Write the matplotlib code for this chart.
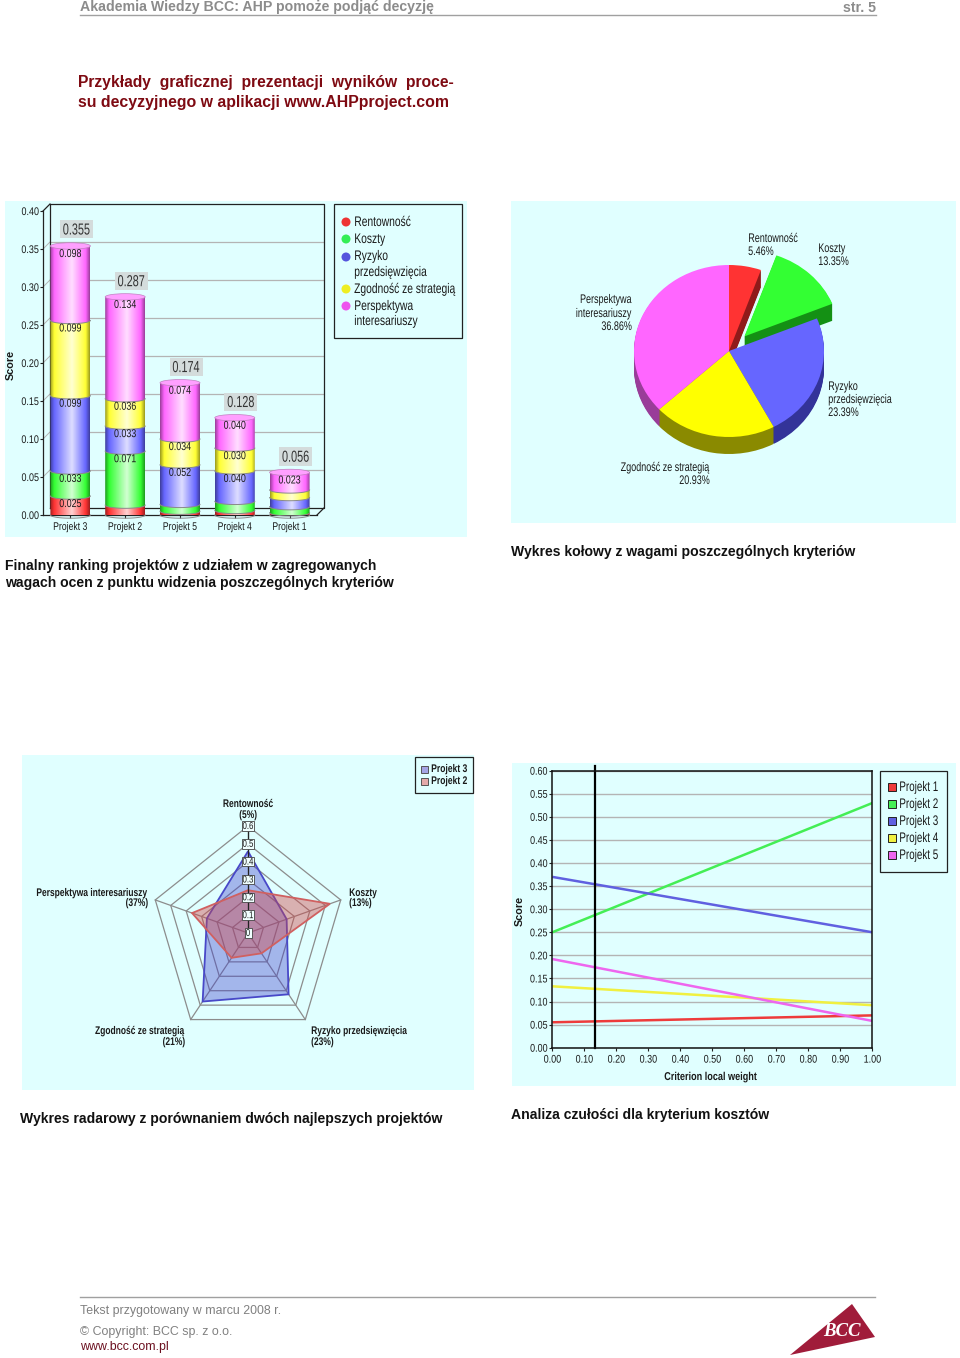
import numpy as np
import matplotlib
matplotlib.use("Agg")
import matplotlib.pyplot as plt
import matplotlib.patheffects as pe
from matplotlib.patches import Rectangle, Ellipse, Polygon, PathPatch
from matplotlib.path import Path
from matplotlib.transforms import Affine2D

W, H = 960, 1358
SANS = 'Liberation Sans'
plt.rcParams['font.family'] = [SANS, 'DejaVu Sans']

# ---------- data ----------
bar_projects = ['Projekt 3', 'Projekt 2', 'Projekt 5', 'Projekt 4', 'Projekt 1']
bar_totals = [0.355, 0.287, 0.174, 0.128, 0.056]
rentownosc = [0.025, 0.013, 0.005, 0.006, 0.003]
koszty = [0.033, 0.071, 0.009, 0.012, 0.008]
ryzyko = [0.099, 0.033, 0.052, 0.040, 0.012]
zgodnosc = [0.099, 0.036, 0.034, 0.030, 0.010]
perspektywa = [0.098, 0.134, 0.074, 0.040, 0.023]
y_ticks_bar = [0.00, 0.05, 0.10, 0.15, 0.20, 0.25, 0.30, 0.35, 0.40]

pie_values = [5.46, 13.35, 23.39, 20.93, 36.86]
pie_explode = [0, 0.235, 0, 0, 0]

radar_project3 = [0.458, 0.250, 0.425, 0.475, 0.266]
radar_project2 = [0.240, 0.530, 0.141, 0.172, 0.362]
radar_levels = [0.1, 0.2, 0.3, 0.4, 0.5, 0.6]

sens_x = [0.0, 1.0]
sens_p1 = [0.055, 0.070]
sens_p2 = [0.250, 0.530]
sens_p3 = [0.370, 0.250]
sens_p4 = [0.133, 0.092]
sens_p5 = [0.192, 0.058]
sens_marker = 0.1335

# ---------- colours ----------
CYAN = '#E0FFFF'
seg_colors = ['#FF3333', '#33FF33', '#6666FF', '#FFFF33', '#FF66FF']
pie_top = ['#FF3333', '#33FF33', '#6666FF', '#FFFF00', '#FF66FF']
pie_side = ['#8F1A1A', '#149014', '#333399', '#8A8A00', '#993D99']
DARKTXT = '#1a1a1a'
FRAC = {'left': 0.0, 'center': 0.5, 'right': 1.0}


class Squeeze(pe.AbstractPathEffect):
    """Narrows a text horizontally about its alignment point (the charts use a condensed face)."""

    def __init__(self, sx, ha='left'):
        super().__init__()
        self.sx, self.frac = sx, FRAC[ha]

    def draw_path(self, renderer, gc, tpath, affine, rgbFace=None):
        ext = tpath.get_extents()
        a = ext.x0 + self.frac * ext.width
        t = Affine2D().translate(-a, 0).scale(self.sx, 1).translate(a, 0)
        renderer.draw_path(gc, tpath, t + affine, rgbFace)


fig = plt.figure(figsize=(W / 100, H / 100), dpi=100, facecolor='white')


def px_axes(x0, y0, x1, y1, **kw):
    a = fig.add_axes([x0 / W, 1 - y1 / H, (x1 - x0) / W, (y1 - y0) / H], **kw)
    a.patch.set_alpha(0)
    return a


page = fig.add_axes([0, 0, 1, 1])
page.set_xlim(0, W)
page.set_ylim(H, 0)
page.axis('off')


def T(x, y, s, size=8.5, ha='left', va='center', weight='normal', color=DARKTXT, sx=None, **kw):
    t = page.text(x, y, s, fontsize=size, ha=ha, va=va, fontweight=weight, color=color, **kw)
    if sx:
        t.set_path_effects([Squeeze(sx, ha)])
    return t


def legend_box(x0, y0, x1, y1):
    page.add_patch(Rectangle((x0 + 1, y0 + 1), x1 - x0, y1 - y0, fc='#777777', ec='none', zorder=3))
    page.add_patch(Rectangle((x0, y0), x1 - x0, y1 - y0, fc=CYAN, ec='#222222', lw=0.9, zorder=4))


# ---------- page text ----------
T(80, 7.5, 'Akademia Wiedzy BCC: AHP pomoże podjąć decyzję', 10.2, weight='bold', color='#8c8c8c')
T(876, 7.5, 'str. 5', 10.2, ha='right', weight='bold', color='#8c8c8c')
page.plot([80, 876], [14.5, 14.5], color='#a0a0a0', lw=1)
T(78, 82, 'Przykłady  graficznej  prezentacji  wyników  proce-', 11.25, weight='bold', color='#7E0A12')
T(78, 103, 'su decyzyjnego w aplikacji www.AHPproject.com', 11.45, weight='bold', color='#7E0A12')

for x, y, s in [(5, 566, 'Finalny ranking projektów z udziałem w zagregowanych'),
                (5, 583, 'wagach ocen z punktu widzenia poszczególnych kryteriów'),
                (511, 552, 'Wykres kołowy z wagami poszczególnych kryteriów'),
                (20, 1119, 'Wykres radarowy z porównaniem dwóch najlepszych projektów'),
                (511, 1115, 'Analiza czułości dla kryterium kosztów')]:
    T(x, y, s, 10.1, weight='bold', color='#111111')

page.plot([80, 875], [1296.5, 1296.5], color='#a0a0a0', lw=1)
T(80, 1311, 'Tekst przygotowany w marcu 2008 r.', 8.95, color='#808080')
T(80, 1332, '© Copyright: BCC sp. z o.o.', 8.95, color='#808080')
T(80, 1347, 'www.bcc.com.pl', 8.95, color='#6b1020')
page.add_patch(Polygon([(852, 1304), (875, 1337), (790, 1355)], closed=True, fc='#A01C3A', ec='none'))
page.text(842, 1332, 'BCC', fontsize=13.5, ha='center', va='center', family='Liberation Serif',
          fontweight='bold', style='italic', color='white')

# panels
for (x0, y0, x1, y1) in [(5, 201, 467, 537), (511, 201, 956, 523), (22, 755, 474, 1090), (512, 763, 956, 1086)]:
    page.add_patch(Rectangle((x0, y0), x1 - x0, y1 - y0, fc=CYAN, ec='none', zorder=0))

# ---------- stacked cylinders ----------
ax = px_axes(43, 204, 324, 515)
dx_cat = 54.8
py = 303 / 0.4
depth_x, depth_y = 7 / dx_cat, 7 / py
ax.set_xlim(-0.5, 4.5 + depth_x)
ax.set_ylim(0, 0.4 + depth_y)
for s in ['top', 'right']:
    ax.spines[s].set_visible(False)
ax.spines['left'].set_bounds(0, 0.4)
ax.spines['bottom'].set_bounds(-0.5, 4.5)
for s in ['left', 'bottom']:
    ax.spines[s].set_color('#222222')
    ax.spines[s].set_linewidth(0.9)
ax.set_xticks(range(5), bar_projects)
ax.set_yticks(y_ticks_bar, [f'{v:.2f}' for v in y_ticks_bar])
ax.tick_params(length=2.5, width=0.8, color='#222222', labelsize=8, labelcolor=DARKTXT, pad=0.5)
ax.tick_params(axis='x', pad=2.5)
for lab in ax.get_xticklabels():
    lab.set_path_effects([Squeeze(0.78, 'center')])
for lab in ax.get_yticklabels():
    lab.set_path_effects([Squeeze(0.81, 'right')])
# back wall
ax.hlines([v + depth_y for v in y_ticks_bar[1:-1]], -0.5 + depth_x, 4.5 + depth_x, color='#b4b4b4', lw=0.9, zorder=1)
for v in y_ticks_bar[1:-1]:
    ax.plot([-0.5, -0.5 + depth_x], [v, v + depth_y], color='#b4b4b4', lw=0.7, zorder=1, clip_on=False)
ax.plot([-0.5 + depth_x, 4.5 + depth_x, 4.5 + depth_x, -0.5 + depth_x, -0.5 + depth_x],
        [depth_y, depth_y, 0.4 + depth_y, 0.4 + depth_y, depth_y], color='#222222', lw=0.9, zorder=1, clip_on=False)
ax.plot([-0.5, -0.5 + depth_x], [0.4, 0.4 + depth_y], color='#222222', lw=0.9, zorder=1, clip_on=False)
ax.plot([4.5, 4.5 + depth_x], [0, depth_y], color='#222222', lw=0.9, zorder=1, clip_on=False)

bar_w = 40 / dx_cat
ell_h = 3.2 / py
stack = [rentownosc, koszty, ryzyko, zgodnosc, perspektywa]
txt_shift = 8 / py


def gradient(col):
    rgb = np.array(matplotlib.colors.to_rgb(col))
    stops = np.array([0.0, 0.10, 0.55, 0.90, 1.0])
    cols = np.array([rgb * 0.62, rgb, rgb * 0.22 + 0.78, rgb, rgb * 0.62])
    t = np.linspace(0, 1, 64)
    return np.dstack([np.interp(t, stops, cols[:, i]) for i in range(3)])


z = 3
for i in range(5):
    base = 0.0
    for j, series in enumerate(stack):
        v = series[i]
        top = base + v
        xl, xr = i - bar_w / 2, i + bar_w / 2
        th = np.linspace(np.pi, 2 * np.pi, 40)
        arc_x = i + bar_w / 2 * np.cos(th)
        arc_y = base + ell_h * np.sin(th)
        verts = [(xl, top), (xr, top)] + list(zip(arc_x[::-1], arc_y[::-1])) + [(xl, top)]
        im = ax.imshow(gradient(seg_colors[j]), extent=(xl, xr, base - ell_h, top), aspect='auto',
                       zorder=z, interpolation='bilinear')
        im.set_clip_path(PathPatch(Path(verts), transform=ax.transData))
        ax.plot(arc_x, arc_y, color='#8a8a8a', lw=0.7, zorder=z + 0.1, clip_on=False)
        z += 0.2
        if j == 4:
            ax.add_patch(Ellipse((i, top), bar_w, 2 * ell_h, fc='#FFA0FF', ec='#c080c0', lw=0.5, zorder=z))
        if v >= 0.02:
            t = ax.text(i, top - txt_shift, f'{v:.3f}', ha='center', va='center', fontsize=8.2,
                        color=DARKTXT, zorder=30)
            t.set_path_effects([Squeeze(0.78, 'center')])
        base = top
    cx, cy = i + 0.11, bar_totals[i] + 0.021
    ax.add_patch(Rectangle((cx - 16.5 / dx_cat, cy - 9 / py), 33 / dx_cat, 18 / py, fc='#D4DCDC', ec='none', zorder=29))
    t = ax.text(cx, cy - 0.001, f'{bar_totals[i]:.3f}', ha='center', va='center', fontsize=11.5,
                color='#333333', zorder=30)
    t.set_path_effects([Squeeze(0.68, 'center')])
ax.set_xlim(-0.5, 4.5 + depth_x)
ax.set_ylim(0, 0.4 + depth_y)
T(11, 365, 'Score', 7.8, ha='center', weight='bold', rotation=90)

legend_box(334, 204, 462, 338)
for yy, col in zip([222, 239, 257, 289, 306], ['#EE3333', '#33EE55', '#5555DD', '#EEEE22', '#EE55EE']):
    page.add_patch(Ellipse((346, yy), 9, 9, fc=col, ec='none', zorder=5))
for yy, s in zip([222, 239, 256, 272, 289, 306, 321],
                 ['Rentowność', 'Koszty', 'Ryzyko', 'przedsięwzięcia', 'Zgodność ze strategią', 'Perspektywa', 'interesariuszy']):
    T(354, yy, s, 10, sx=0.74, zorder=6)

# ---------- pie ----------
pc_x, pc_y, rx, ry = 729, 351, 95, 86
px_lim = 1.5
axp = px_axes(pc_x - px_lim * rx, pc_y - px_lim * ry, pc_x + px_lim * rx, pc_y + px_lim * ry)
depth = 17 / ry
for d in np.linspace(depth, 0, 18):
    cols = pie_top if d == 0 else pie_side
    axp.pie(pie_values, explode=pie_explode, colors=cols, startangle=90, counterclock=False,
            center=(0, -d), radius=1, wedgeprops=dict(linewidth=0))
axp.set_aspect('auto')
axp.set_xlim(-px_lim, px_lim)
axp.set_ylim(-px_lim, px_lim)
axp.axis('off')
for x, y, s, ha in [(748, 239, 'Rentowność', 'left'), (748, 252, '5.46%', 'left'),
                    (818, 249, 'Koszty', 'left'), (818, 262, '13.35%', 'left'),
                    (632, 300, 'Perspektywa', 'right'), (632, 314, 'interesariuszy', 'right'), (632, 327, '36.86%', 'right'),
                    (828, 387, 'Ryzyko', 'left'), (828, 400, 'przedsięwzięcia', 'left'), (828, 413, '23.39%', 'left'),
                    (710, 468, 'Zgodność ze strategią', 'right'), (710, 481, '20.93%', 'right')]:
    T(x, y, s, 9, ha=ha, sx=0.72)

# ---------- radar ----------
rc_x, rc_y, sx_r, sy_r = 248, 933, 97.5 / 0.6, 107 / 0.6
lim = 0.7
axr = px_axes(rc_x - lim * sx_r, rc_y - lim * sy_r, rc_x + lim * sx_r, rc_y + lim * sy_r)
axr.set_xlim(-lim, lim)
axr.set_ylim(-lim, lim)
axr.axis('off')
ang = np.arange(5) * 2 * np.pi / 5


def polar_xy(vals):
    v = np.asarray(vals, float)
    return np.r_[v * np.sin(ang), v[0] * np.sin(ang[0])], np.r_[v * np.cos(ang), v[0] * np.cos(ang[0])]


for lv in radar_levels:
    axr.plot(*polar_xy([lv] * 5), color='#8c8c8c', lw=0.9, zorder=2)
for a in ang:
    axr.plot([0, 0.6 * np.sin(a)], [0, 0.6 * np.cos(a)], color='#8c8c8c', lw=0.9, zorder=2)
axr.fill(*polar_xy(radar_project3), fc=(0.25, 0.25, 0.8, 0.38), ec='#4848C8', lw=1.3, zorder=3)
axr.fill(*polar_xy(radar_project2), fc=(0.82, 0.28, 0.28, 0.42), ec='#D06060', lw=1.3, zorder=4)
axr.plot([0, 0], [0, 0.6], color='#222222', lw=0.9, zorder=5)
for v in [0] + radar_levels:
    bw = (12 if v else 7) / sx_r
    axr.add_patch(Rectangle((-bw / 2, v - 4.7 / sy_r), bw, 9.4 / sy_r, fc='#F0FFFF', ec='#444444', lw=0.6, zorder=6))
    t = axr.text(0, v, f'{v:g}', ha='center', va='center', fontsize=7.2, color=DARKTXT, zorder=7)
    t.set_path_effects([Squeeze(0.78, 'center')])
for x, y, s, ha in [(248, 804, 'Rentowność', 'center'), (248, 815, '(5%)', 'center'),
                    (349, 893, 'Koszty', 'left'), (349, 903, '(13%)', 'left'),
                    (311, 1031, 'Ryzyko przedsięwzięcia', 'left'), (311, 1042, '(23%)', 'left'),
                    (185, 1031, 'Zgodność ze strategią', 'right'), (185, 1042, '(21%)', 'right'),
                    (148, 893, 'Perspektywa interesariuszy', 'right'), (148, 903, '(37%)', 'right')]:
    T(x, y, s, 8, ha=ha, weight='bold', sx=0.76)
legend_box(415, 757, 473, 793)
for yy, s, col in [(769, 'Projekt 3', '#A4A4E4'), (781, 'Projekt 2', '#E4AAAA')]:
    page.add_patch(Rectangle((421, yy - 3.5), 7, 7, fc=col, ec='#555555', lw=0.7, zorder=5))
    T(431, yy, s, 8, weight='bold', sx=0.77, zorder=6)

# ---------- sensitivity ----------
axs = px_axes(552.3, 770.7, 872.3, 1047.7)
axs.set_xlim(0, 1)
axs.set_ylim(0, 0.6)
y_t = np.arange(0, 0.601, 0.05)
x_t = np.arange(0, 1.001, 0.10)
axs.set_yticks(y_t, [f'{v:.2f}' for v in y_t])
axs.set_xticks(x_t, [f'{v:.2f}' for v in x_t])
axs.tick_params(length=2.5, width=0.8, color='#222222', labelsize=8, labelcolor=DARKTXT, pad=1)
axs.tick_params(axis='x', pad=2.5)
for lab in axs.get_xticklabels():
    lab.set_path_effects([Squeeze(0.81, 'center')])
for lab in axs.get_yticklabels():
    lab.set_path_effects([Squeeze(0.81, 'right')])
axs.yaxis.grid(True, color='#b4b4b4', lw=1)
axs.set_axisbelow(True)
for s in axs.spines.values():
    s.set_color('#111111')
    s.set_linewidth(1.1)
sens_colors = ['#EE3B3B', '#44EE55', '#6060E0', '#F0F040', '#EE66EE']
for vals, col in zip([sens_p1, sens_p2, sens_p3, sens_p4, sens_p5], sens_colors):
    axs.plot(sens_x, vals, color=col, lw=1.8, solid_capstyle='butt')
axs.plot([sens_marker, sens_marker], [0, 0.61], color='black', lw=1.6, clip_on=False)
T(520, 911, 'Score', 7.8, ha='center', weight='bold', rotation=90)
T(711, 1077, 'Criterion local weight', 8.2, ha='center', weight='bold', sx=0.8)
legend_box(880, 771, 947, 872)
for yy, s, col in zip([787, 804, 821, 838, 855], ['Projekt 1', 'Projekt 2', 'Projekt 3', 'Projekt 4', 'Projekt 5'], sens_colors):
    page.add_patch(Rectangle((888, yy - 4), 8, 8, fc=col, ec='#222222', lw=0.7, zorder=5))
    T(899, yy, s, 10, sx=0.71, zorder=6)

fig.savefig('out.png', dpi=100, facecolor='white')
